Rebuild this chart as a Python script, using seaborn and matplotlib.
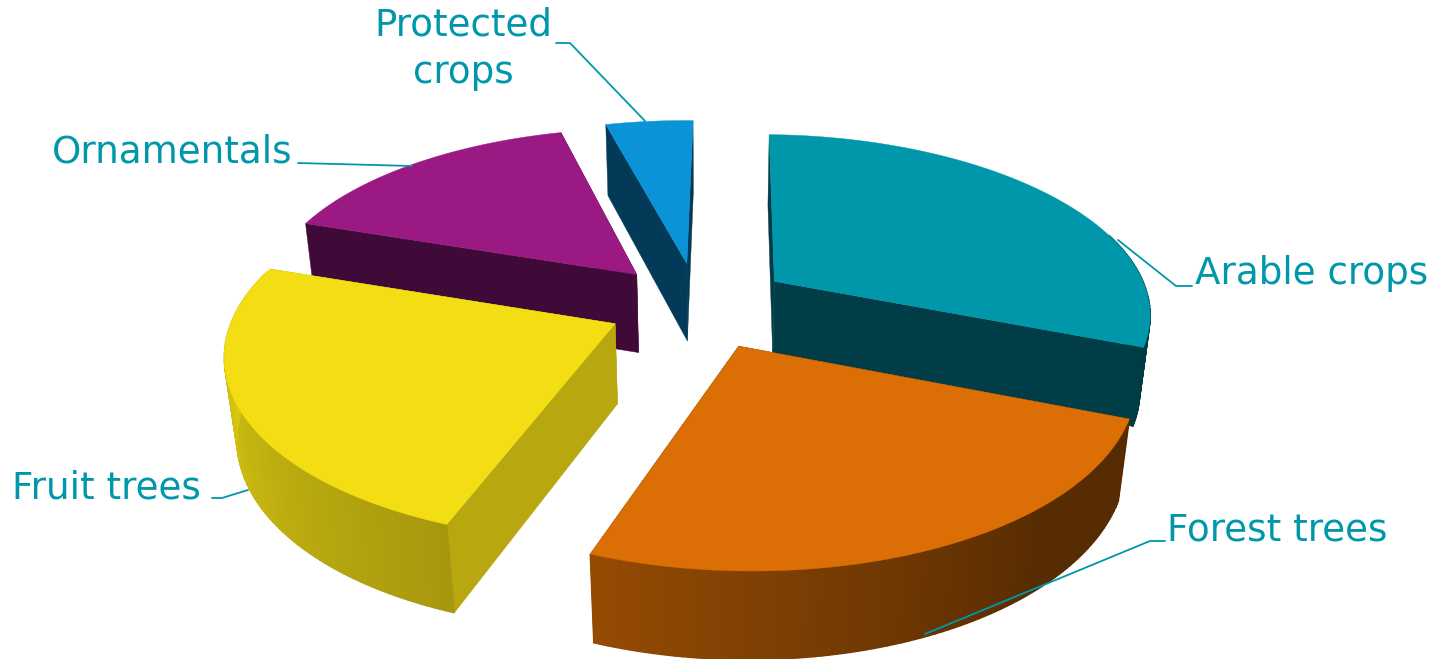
import numpy as np
import matplotlib
matplotlib.use("Agg")
import matplotlib.pyplot as plt
import seaborn as sns

# shares, clockwise from the top
labels = ["Arable crops", "Forest trees", "Fruit trees", "Ornamentals", "Protected\ncrops"]
shares = [31.1, 25.0, 23.9, 15.6, 4.4]

top_colors = ["#0097AB", "#DB6E05", "#F3DE14", "#9A1982", "#0A93D6"]
wall_colors = ["#003D47", "#572B00", "#B8A70E", "#3F0A37", "#033A57"]

# label text position, alignment, leader line
label_x = [1195, 1167, 12, 52, 463]
label_y = [274, 530, 488, 152, 49]
label_ha = ["left", "left", "left", "left", "center"]
leaders = [
    [(1118, 240), (1176, 286), (1192, 286)],
    [(925, 634), (1150, 541), (1165, 541)],
    [(248, 490), (222, 498), (212, 498)],
    [(412, 166), (298, 163)],
    [(645, 121), (570, 43), (556, 43)],
]

# camera of the perspective pie
cx, cy = 710, 305
scale_x, scale_y = 377, 176.6
shear = -6
persp, persp_x = 0.1535, 0.02
depth, depth_w = 81, 0.025
explode = 0.245
apex_shift = -0.026  # slice tips sit a little left of the rim centre
text_color = "#0097AB"

sns.set_theme(style="white")


def project(x, y, low=False):
    w = 1 + persp * y + persp_x * x
    if low:
        w = w + depth_w
        return cx + (scale_x * x + shear * y) / w, cy + (-scale_y * y + depth) / w
    return cx + (scale_x * x + shear * y) / w, cy - scale_y * y / w


def arc_shade(deg):
    # the outer wall gets lighter going round to the left
    return np.interp(deg, [140, 204, 270], [0.40, 0.69, 0.90])


palette = sns.color_palette(top_colors)
walls = sns.color_palette(wall_colors)

fig = plt.figure(figsize=(14.39, 6.59), dpi=100)
ax = fig.add_axes([0, 0, 1, 1])
ax.set_xlim(0, 1439)
ax.set_ylim(659, 0)
ax.axis("off")

edges = np.concatenate([[0], np.cumsum(shares)]) * 3.6
# back slices first
mid = (edges[:-1] + edges[1:]) / 2
order = np.argsort(-np.cos(np.radians(mid)))

for i in order:
    a0, a1 = edges[i], edges[i + 1]
    ox = explode * np.sin(np.radians(mid[i]))
    oy = explode * np.cos(np.radians(mid[i]))
    deg = np.linspace(a0, a1, int(a1 - a0) + 2)
    rx = ox + np.sin(np.radians(deg))
    ry = oy + np.cos(np.radians(deg))

    tx, ty = project(rx, ry)
    bx, by = project(rx, ry, low=True)
    apx, apy = project(ox + apex_shift, oy)
    abx, aby = project(ox + apex_shift, oy, low=True)

    # flat cut walls
    for k in (0, -1):
        ax.fill([apx, tx[k], bx[k], abx], [apy, ty[k], by[k], aby], color=walls[i], lw=0.3)

    # outer wall, one small quad per step, only the part facing us
    base = np.array(palette[i])
    for j in range(len(deg) - 1):
        m = (deg[j] + deg[j + 1]) / 2
        if np.cos(np.radians(m)) > 0.3:
            continue
        ax.fill([tx[j], tx[j + 1], bx[j + 1], bx[j]], [ty[j], ty[j + 1], by[j + 1], by[j]],
                color=base * arc_shade(m), lw=1.0)

    # top face
    ax.fill(np.r_[apx, tx], np.r_[apy, ty], color=palette[i], lw=0.3)

for i, name in enumerate(labels):
    ax.text(label_x[i], label_y[i], name, ha=label_ha[i], va="center", color=text_color,
            fontsize=26.8, family="DejaVu Sans", linespacing=1.36)
    xs, ys = zip(*leaders[i])
    ax.plot(xs, ys, color=text_color, lw=1.3, zorder=5)

sns.despine(ax=ax, left=True, bottom=True)
fig.savefig("out.png", dpi=100, facecolor="white")
